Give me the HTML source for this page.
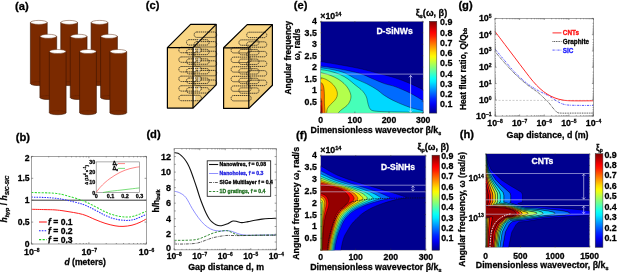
<!DOCTYPE html>
<html><head><meta charset="utf-8"><title>figure</title>
<style>
html,body{margin:0;padding:0;background:#fff;}
body{width:617px;height:272px;overflow:hidden;}
svg{display:block;will-change:transform;}
text{font-family:"Liberation Sans", sans-serif;}
</style></head><body>
<svg xmlns="http://www.w3.org/2000/svg" width="617" height="272" viewBox="0 0 617 272" font-family="'Liberation Sans', sans-serif">
<defs><linearGradient id="cbe" x1="0" y1="0" x2="0" y2="1"><stop offset="0" stop-color="#800000"/><stop offset="0.03" stop-color="#9f0000"/><stop offset="0.06" stop-color="#be0000"/><stop offset="0.09" stop-color="#de0000"/><stop offset="0.12" stop-color="#fd0000"/><stop offset="0.16" stop-color="#ff1d00"/><stop offset="0.19" stop-color="#ff3d00"/><stop offset="0.22" stop-color="#ff5c00"/><stop offset="0.25" stop-color="#ff7c00"/><stop offset="0.28" stop-color="#ff9b00"/><stop offset="0.31" stop-color="#ffba00"/><stop offset="0.34" stop-color="#ffda00"/><stop offset="0.38" stop-color="#fff900"/><stop offset="0.41" stop-color="#e6ff19"/><stop offset="0.44" stop-color="#c6ff39"/><stop offset="0.47" stop-color="#a7ff58"/><stop offset="0.5" stop-color="#87ff78"/><stop offset="0.53" stop-color="#68ff97"/><stop offset="0.56" stop-color="#49ffb6"/><stop offset="0.59" stop-color="#29ffd6"/><stop offset="0.62" stop-color="#0afff5"/><stop offset="0.66" stop-color="#00eaff"/><stop offset="0.69" stop-color="#00caff"/><stop offset="0.72" stop-color="#00abff"/><stop offset="0.75" stop-color="#008bff"/><stop offset="0.78" stop-color="#006cff"/><stop offset="0.81" stop-color="#004dff"/><stop offset="0.84" stop-color="#002dff"/><stop offset="0.88" stop-color="#000eff"/><stop offset="0.91" stop-color="#0000ee"/><stop offset="0.94" stop-color="#0000ce"/><stop offset="0.97" stop-color="#0000af"/><stop offset="1" stop-color="#00008f"/></linearGradient><linearGradient id="cbf" x1="0" y1="0" x2="0" y2="1"><stop offset="0" stop-color="#800000"/><stop offset="0.03" stop-color="#9f0000"/><stop offset="0.06" stop-color="#be0000"/><stop offset="0.09" stop-color="#de0000"/><stop offset="0.12" stop-color="#fd0000"/><stop offset="0.16" stop-color="#ff1d00"/><stop offset="0.19" stop-color="#ff3d00"/><stop offset="0.22" stop-color="#ff5c00"/><stop offset="0.25" stop-color="#ff7c00"/><stop offset="0.28" stop-color="#ff9b00"/><stop offset="0.31" stop-color="#ffba00"/><stop offset="0.34" stop-color="#ffda00"/><stop offset="0.38" stop-color="#fff900"/><stop offset="0.41" stop-color="#e6ff19"/><stop offset="0.44" stop-color="#c6ff39"/><stop offset="0.47" stop-color="#a7ff58"/><stop offset="0.5" stop-color="#87ff78"/><stop offset="0.53" stop-color="#68ff97"/><stop offset="0.56" stop-color="#49ffb6"/><stop offset="0.59" stop-color="#29ffd6"/><stop offset="0.62" stop-color="#0afff5"/><stop offset="0.66" stop-color="#00eaff"/><stop offset="0.69" stop-color="#00caff"/><stop offset="0.72" stop-color="#00abff"/><stop offset="0.75" stop-color="#008bff"/><stop offset="0.78" stop-color="#006cff"/><stop offset="0.81" stop-color="#004dff"/><stop offset="0.84" stop-color="#002dff"/><stop offset="0.88" stop-color="#000eff"/><stop offset="0.91" stop-color="#0000ee"/><stop offset="0.94" stop-color="#0000ce"/><stop offset="0.97" stop-color="#0000af"/><stop offset="1" stop-color="#00008f"/></linearGradient><linearGradient id="cbh" x1="0" y1="0" x2="0" y2="1"><stop offset="0" stop-color="#800000"/><stop offset="0.03" stop-color="#9f0000"/><stop offset="0.06" stop-color="#be0000"/><stop offset="0.09" stop-color="#de0000"/><stop offset="0.12" stop-color="#fd0000"/><stop offset="0.16" stop-color="#ff1d00"/><stop offset="0.19" stop-color="#ff3d00"/><stop offset="0.22" stop-color="#ff5c00"/><stop offset="0.25" stop-color="#ff7c00"/><stop offset="0.28" stop-color="#ff9b00"/><stop offset="0.31" stop-color="#ffba00"/><stop offset="0.34" stop-color="#ffda00"/><stop offset="0.38" stop-color="#fff900"/><stop offset="0.41" stop-color="#e6ff19"/><stop offset="0.44" stop-color="#c6ff39"/><stop offset="0.47" stop-color="#a7ff58"/><stop offset="0.5" stop-color="#87ff78"/><stop offset="0.53" stop-color="#68ff97"/><stop offset="0.56" stop-color="#49ffb6"/><stop offset="0.59" stop-color="#29ffd6"/><stop offset="0.62" stop-color="#0afff5"/><stop offset="0.66" stop-color="#00eaff"/><stop offset="0.69" stop-color="#00caff"/><stop offset="0.72" stop-color="#00abff"/><stop offset="0.75" stop-color="#008bff"/><stop offset="0.78" stop-color="#006cff"/><stop offset="0.81" stop-color="#004dff"/><stop offset="0.84" stop-color="#002dff"/><stop offset="0.88" stop-color="#000eff"/><stop offset="0.91" stop-color="#0000ee"/><stop offset="0.94" stop-color="#0000ce"/><stop offset="0.97" stop-color="#0000af"/><stop offset="1" stop-color="#00008f"/></linearGradient></defs>
<rect width="617" height="272" fill="#fff"/>
<text x="15" y="10.4" font-size="11.2" text-anchor="start" font-weight="bold" fill="#000" stroke="#000" stroke-width="0.28">(a)</text><path d="M30.4 22.4 L30.4 83.6 A8.4 2 0 0 0 47.2 83.6 L47.2 22.4 Z" fill="#7b2a00" stroke="#3d1400" stroke-width="0.6"/><path d="M30.7 83.6 A8.1 2 0 0 1 46.9 83.6" fill="none" stroke="#4a1800" stroke-width="0.45" stroke-dasharray="0.8 0.5"/><ellipse cx="38.8" cy="22.4" rx="8.2" ry="2" fill="#fff" stroke="#6b3b20" stroke-width="0.5"/><path d="M60.75 22.4 L60.75 83.6 A8.4 2 0 0 0 77.55 83.6 L77.55 22.4 Z" fill="#7b2a00" stroke="#3d1400" stroke-width="0.6"/><path d="M61.05 83.6 A8.1 2 0 0 1 77.25 83.6" fill="none" stroke="#4a1800" stroke-width="0.45" stroke-dasharray="0.8 0.5"/><ellipse cx="69.15" cy="22.4" rx="8.2" ry="2" fill="#fff" stroke="#6b3b20" stroke-width="0.5"/><path d="M91.1 22.4 L91.1 83.6 A8.4 2 0 0 0 107.9 83.6 L107.9 22.4 Z" fill="#7b2a00" stroke="#3d1400" stroke-width="0.6"/><path d="M91.4 83.6 A8.1 2 0 0 1 107.6 83.6" fill="none" stroke="#4a1800" stroke-width="0.45" stroke-dasharray="0.8 0.5"/><ellipse cx="99.5" cy="22.4" rx="8.2" ry="2" fill="#fff" stroke="#6b3b20" stroke-width="0.5"/><path d="M39.9 36.3 L39.9 97.5 A8.4 2 0 0 0 56.7 97.5 L56.7 36.3 Z" fill="#7b2a00" stroke="#3d1400" stroke-width="0.6"/><path d="M40.2 97.5 A8.1 2 0 0 1 56.4 97.5" fill="none" stroke="#4a1800" stroke-width="0.45" stroke-dasharray="0.8 0.5"/><ellipse cx="48.3" cy="36.3" rx="8.2" ry="2" fill="#fff" stroke="#6b3b20" stroke-width="0.5"/><path d="M70.25 36.3 L70.25 97.5 A8.4 2 0 0 0 87.05 97.5 L87.05 36.3 Z" fill="#7b2a00" stroke="#3d1400" stroke-width="0.6"/><path d="M70.55 97.5 A8.1 2 0 0 1 86.75 97.5" fill="none" stroke="#4a1800" stroke-width="0.45" stroke-dasharray="0.8 0.5"/><ellipse cx="78.65" cy="36.3" rx="8.2" ry="2" fill="#fff" stroke="#6b3b20" stroke-width="0.5"/><path d="M100.6 36.3 L100.6 97.5 A8.4 2 0 0 0 117.4 97.5 L117.4 36.3 Z" fill="#7b2a00" stroke="#3d1400" stroke-width="0.6"/><path d="M100.9 97.5 A8.1 2 0 0 1 117.1 97.5" fill="none" stroke="#4a1800" stroke-width="0.45" stroke-dasharray="0.8 0.5"/><ellipse cx="109" cy="36.3" rx="8.2" ry="2" fill="#fff" stroke="#6b3b20" stroke-width="0.5"/><path d="M49.3 51.5 L49.3 112.7 A8.4 2 0 0 0 66.1 112.7 L66.1 51.5 Z" fill="#7b2a00" stroke="#3d1400" stroke-width="0.6"/><path d="M49.6 112.7 A8.1 2 0 0 1 65.8 112.7" fill="none" stroke="#4a1800" stroke-width="0.45" stroke-dasharray="0.8 0.5"/><ellipse cx="57.7" cy="51.5" rx="8.2" ry="2" fill="#fff" stroke="#6b3b20" stroke-width="0.5"/><path d="M79.6 51.5 L79.6 112.7 A8.4 2 0 0 0 96.4 112.7 L96.4 51.5 Z" fill="#7b2a00" stroke="#3d1400" stroke-width="0.6"/><path d="M79.9 112.7 A8.1 2 0 0 1 96.1 112.7" fill="none" stroke="#4a1800" stroke-width="0.45" stroke-dasharray="0.8 0.5"/><ellipse cx="88" cy="51.5" rx="8.2" ry="2" fill="#fff" stroke="#6b3b20" stroke-width="0.5"/><path d="M109.9 51.5 L109.9 112.7 A8.4 2 0 0 0 126.7 112.7 L126.7 51.5 Z" fill="#7b2a00" stroke="#3d1400" stroke-width="0.6"/><path d="M110.2 112.7 A8.1 2 0 0 1 126.4 112.7" fill="none" stroke="#4a1800" stroke-width="0.45" stroke-dasharray="0.8 0.5"/><ellipse cx="118.3" cy="51.5" rx="8.2" ry="2" fill="#fff" stroke="#6b3b20" stroke-width="0.5"/>
<text x="15.7" y="141.2" font-size="11.2" text-anchor="start" font-weight="bold" fill="#000" stroke="#000" stroke-width="0.28">(b)</text><line x1="31.4" y1="200.2" x2="146.4" y2="200.2" stroke="#222" stroke-width="0.9"/><path d="M31.4 209.3 C33.67 209.35 41.07 209.5 45 209.6 C48.93 209.7 51.67 209.65 55 209.9 C58.33 210.15 60.4 210.35 65 211.1 C69.6 211.85 77.6 213 82.6 214.4 C87.6 215.8 91.27 218.02 95 219.5 C98.73 220.98 101.67 222.25 105 223.3 C108.33 224.35 112 225.28 115 225.8 C118 226.32 120.17 226.5 123 226.4 C125.83 226.3 129.17 225.88 132 225.2 C134.83 224.52 137.6 223.35 140 222.3 C142.4 221.25 145.33 219.47 146.4 218.9" fill="none" stroke="#ff2020" stroke-width="1" stroke-linecap="butt"/><path d="M31.4 197.1 C33.67 197.17 41.07 197.32 45 197.5 C48.93 197.68 51.67 197.82 55 198.2 C58.33 198.58 60.4 198.78 65 199.8 C69.6 200.82 77.6 202.6 82.6 204.3 C87.6 206 91.27 208.17 95 210 C98.73 211.83 101.67 213.82 105 215.3 C108.33 216.78 111.5 218.05 115 218.9 C118.5 219.75 122.67 220.35 126 220.4 C129.33 220.45 131.6 220.22 135 219.2 C138.4 218.18 144.5 215.12 146.4 214.3" fill="none" stroke="#2a2aff" stroke-width="1.05" stroke-dasharray="1.5 1.1" stroke-linecap="butt"/><path d="M31.4 192.5 C33.67 192.55 41.07 192.67 45 192.8 C48.93 192.93 51.67 192.9 55 193.3 C58.33 193.7 60.4 193.98 65 195.2 C69.6 196.42 77.6 198.72 82.6 200.6 C87.6 202.48 91.27 204.65 95 206.5 C98.73 208.35 101.67 210.22 105 211.7 C108.33 213.18 111.5 214.52 115 215.4 C118.5 216.28 122.67 216.93 126 217 C129.33 217.07 131.6 216.77 135 215.8 C138.4 214.83 144.5 211.97 146.4 211.2" fill="none" stroke="#30d830" stroke-width="1.05" stroke-dasharray="2.1 1.3" stroke-linecap="butt"/><rect x="31.4" y="156.4" width="115" height="87.6" fill="none" stroke="#8a8a8a" stroke-width="0.8"/><path d="M31.4 244v-1.8M31.4 156.4v1.8M88.9 244v-1.8M88.9 156.4v1.8M146.4 244v-1.8M146.4 156.4v1.8M31.4 156.4h1.8M146.4 156.4h-1.8M31.4 178.3h1.8M146.4 178.3h-1.8M31.4 200.2h1.8M146.4 200.2h-1.8M31.4 222.1h1.8M146.4 222.1h-1.8M31.4 244h1.8M146.4 244h-1.8" stroke="#555" stroke-width="0.6" fill="none"/><path d="M48.71 244v-1M48.71 156.4v1M58.83 244v-1M58.83 156.4v1M66.02 244v-1M66.02 156.4v1M71.59 244v-1M71.59 156.4v1M76.14 244v-1M76.14 156.4v1M79.99 244v-1M79.99 156.4v1M83.33 244v-1M83.33 156.4v1M86.27 244v-1M86.27 156.4v1M106.21 244v-1M106.21 156.4v1M116.33 244v-1M116.33 156.4v1M123.52 244v-1M123.52 156.4v1M129.09 244v-1M129.09 156.4v1M133.64 244v-1M133.64 156.4v1M137.49 244v-1M137.49 156.4v1M140.83 244v-1M140.83 156.4v1M143.77 244v-1M143.77 156.4v1" stroke="#555" stroke-width="0.6" fill="none"/><text x="29.6" y="160.8" font-size="8.6" text-anchor="end" font-weight="bold" fill="#000" stroke="#000" stroke-width="0.28">2</text><text x="29.6" y="181.3" font-size="8.6" text-anchor="end" font-weight="bold" fill="#000" stroke="#000" stroke-width="0.28">1.5</text><text x="29.6" y="203.2" font-size="8.6" text-anchor="end" font-weight="bold" fill="#000" stroke="#000" stroke-width="0.28">1</text><text x="29.6" y="225.1" font-size="8.6" text-anchor="end" font-weight="bold" fill="#000" stroke="#000" stroke-width="0.28">0.5</text><text x="29.6" y="247" font-size="8.6" text-anchor="end" font-weight="bold" fill="#000" stroke="#000" stroke-width="0.28">0</text><text x="31.8" y="254.8" font-size="8.9" font-weight="bold" text-anchor="middle" fill="#000" stroke="#000" stroke-width="0.28">10<tspan font-size="4.98" dy="-2.94">−8</tspan></text><text x="89.3" y="254.8" font-size="8.9" font-weight="bold" text-anchor="middle" fill="#000" stroke="#000" stroke-width="0.28">10<tspan font-size="4.98" dy="-2.94">−7</tspan></text><text x="146.6" y="254.8" font-size="8.9" font-weight="bold" text-anchor="middle" fill="#000" stroke="#000" stroke-width="0.28">10<tspan font-size="4.98" dy="-2.94">−6</tspan></text><text x="64.4" y="265.2" font-size="8.6" font-weight="bold" stroke="#000" stroke-width="0.28"><tspan font-style="italic">d</tspan> (meters)</text><text transform="translate(7.0 199) rotate(-90)" text-anchor="middle" font-size="8.6" font-weight="bold" stroke="#000" stroke-width="0.28"><tspan font-style="italic">h</tspan><tspan font-size="5.4" dy="1.6" font-style="italic">hyp</tspan><tspan dy="-1.6"> / </tspan><tspan font-style="italic">h</tspan><tspan font-size="5.4" dy="1.6" font-style="italic">SiC-SiC</tspan></text><line x1="39" y1="222" x2="46.8" y2="222" stroke="#ff2020" stroke-width="1.1"/><text x="48.0" y="225" font-size="8.6" font-weight="bold" stroke="#000" stroke-width="0.28"><tspan font-style="italic">f</tspan> = 0.1</text><line x1="39" y1="230.8" x2="46.8" y2="230.8" stroke="#2020ff" stroke-width="1.1" stroke-dasharray="1.6 1.2"/><text x="48.0" y="233.8" font-size="8.6" font-weight="bold" stroke="#000" stroke-width="0.28"><tspan font-style="italic">f</tspan> = 0.2</text><line x1="39" y1="239.6" x2="46.8" y2="239.6" stroke="#20d020" stroke-width="1.1" stroke-dasharray="2.2 1.4"/><text x="48.0" y="242.6" font-size="8.6" font-weight="bold" stroke="#000" stroke-width="0.28"><tspan font-style="italic">f</tspan> = 0.3</text><rect x="96.2" y="161.9" width="43.3" height="30.7" fill="#fff" stroke="#777" stroke-width="0.6"/><path d="M96.2 192.4 C96.83 191.58 98.53 189.15 100 187.5 C101.47 185.85 103.33 184 105 182.5 C106.67 181 108.33 179.72 110 178.5 C111.67 177.28 113.33 176.22 115 175.2 C116.67 174.18 118.33 173.23 120 172.4 C121.67 171.57 123.33 170.83 125 170.2 C126.67 169.57 128.33 169.05 130 168.6 C131.67 168.15 133.42 167.8 135 167.5 C136.58 167.2 138.75 166.92 139.5 166.8" fill="none" stroke="#ff5050" stroke-width="0.7" stroke-linecap="butt"/><path d="M103 192.5 C104.17 192.3 107.17 191.68 110 191.3 C112.83 190.92 116.67 190.58 120 190.2 C123.33 189.82 126.75 189.38 130 189 C133.25 188.62 137.92 188.08 139.5 187.9" fill="none" stroke="#40d040" stroke-width="0.7" stroke-linecap="butt"/><text x="95.2" y="163.8" font-size="5.4" text-anchor="end" font-weight="bold" fill="#000" stroke="#000" stroke-width="0.28">30</text><text x="95.2" y="174.1" font-size="5.4" text-anchor="end" font-weight="bold" fill="#000" stroke="#000" stroke-width="0.28">20</text><text x="95.2" y="184.3" font-size="5.4" text-anchor="end" font-weight="bold" fill="#000" stroke="#000" stroke-width="0.28">10</text><text x="95.2" y="194.5" font-size="5.4" text-anchor="end" font-weight="bold" fill="#000" stroke="#000" stroke-width="0.28">0</text><text x="96.2" y="197.6" font-size="5.4" text-anchor="middle" font-weight="bold" fill="#000" stroke="#000" stroke-width="0.28">0</text><text x="110.6" y="197.6" font-size="5.4" text-anchor="middle" font-weight="bold" fill="#000" stroke="#000" stroke-width="0.28">0.1</text><text x="125" y="197.6" font-size="5.4" text-anchor="middle" font-weight="bold" fill="#000" stroke="#000" stroke-width="0.28">0.2</text><text x="139.5" y="197.6" font-size="5.4" text-anchor="middle" font-weight="bold" fill="#000" stroke="#000" stroke-width="0.28">0.3</text><text transform="translate(87.6 175) rotate(-90)" text-anchor="middle" font-size="4.0" font-weight="bold" stroke="#000" stroke-width="0.28">Δ (10<tspan font-size="3" dy="-1.5">4</tspan><tspan dy="1.5"> s</tspan><tspan font-size="3" dy="-1.5">−1</tspan><tspan dy="1.5">)</tspan></text><text x="112.6" y="165.2" font-size="5.2" text-anchor="start" font-weight="bold" fill="#000" stroke="#000" stroke-width="0.28">Δ<tspan font-size="3" dy="1">r</tspan></text><text x="112.6" y="170" font-size="5.2" text-anchor="start" font-weight="bold" fill="#000" stroke="#000" stroke-width="0.28">Δ<tspan font-size="3" dy="1">s</tspan></text><line x1="118" y1="163.6" x2="125" y2="163.6" stroke="#ff5050" stroke-width="0.7"/><line x1="118" y1="168.4" x2="125" y2="168.4" stroke="#40d040" stroke-width="0.7"/>
<text x="145.7" y="9.1" font-size="11.2" text-anchor="start" font-weight="bold" fill="#000" stroke="#000" stroke-width="0.28">(c)</text><polygon points="167.4,47.6 193,47.6 193,108.1 167.4,108.1" fill="#f9d27f"/><polygon points="167.4,47.6 190.6,24.4 216.2,24.4 193,47.6" fill="#f8d584"/><polygon points="193,47.6 216.2,24.4 216.2,84.9 193,108.1" fill="#eecb7c"/><g fill="none" stroke="#141414" stroke-width="0.85" stroke-dasharray="1.4 0.6" opacity="0.9"><rect x="178.88" y="47.32" width="22.5" height="5.4" rx="2.5" /><rect x="178.88" y="56.92" width="22.5" height="5.4" rx="2.5" /><rect x="178.88" y="66.52" width="22.5" height="5.4" rx="2.5" /><rect x="178.88" y="76.12" width="22.5" height="5.4" rx="2.5" /><rect x="178.88" y="85.72" width="22.5" height="5.4" rx="2.5" /><rect x="178.88" y="95.32" width="22.5" height="5.4" rx="2.5" /><rect x="186.54" y="39.66" width="22.5" height="5.4" rx="2.5" /><rect x="186.54" y="49.26" width="22.5" height="5.4" rx="2.5" /><rect x="186.54" y="58.86" width="22.5" height="5.4" rx="2.5" /><rect x="186.54" y="68.46" width="22.5" height="5.4" rx="2.5" /><rect x="186.54" y="78.06" width="22.5" height="5.4" rx="2.5" /><rect x="186.54" y="87.66" width="22.5" height="5.4" rx="2.5" /><rect x="194.19" y="32.01" width="22.5" height="5.4" rx="2.5" /><rect x="194.19" y="41.61" width="22.5" height="5.4" rx="2.5" /><rect x="194.19" y="51.21" width="22.5" height="5.4" rx="2.5" /><rect x="194.19" y="60.81" width="22.5" height="5.4" rx="2.5" /><rect x="194.19" y="70.41" width="22.5" height="5.4" rx="2.5" /><rect x="194.19" y="80.01" width="22.5" height="5.4" rx="2.5" /></g><path d="M194.6 47.92 v4.2M194.6 57.52 v4.2M194.6 67.12 v4.2M194.6 76.72 v4.2M194.6 86.32 v4.2M194.6 95.92 v4.2M199.1 38.76 v4.2M199.1 48.36 v4.2M199.1 57.96 v4.2M199.1 67.56 v4.2M199.1 77.16 v4.2M199.1 86.76 v4.2" stroke="#fff" stroke-width="0.9" fill="none"/><g fill="none" stroke="#000" stroke-width="1.2" stroke-linejoin="round"><polygon points="167.4,47.6 193,47.6 193,108.1 167.4,108.1"/><polyline points="167.4,47.6 190.6,24.4 216.2,24.4 216.2,84.9 193,108.1"/><line x1="193" y1="47.6" x2="216.2" y2="24.4"/></g><polygon points="223.6,47.8 248.8,47.8 248.8,108.4 223.6,108.4" fill="#f9d27f"/><polygon points="223.6,47.8 247.2,24.6 272.4,24.6 248.8,47.8" fill="#f8d584"/><polygon points="248.8,47.8 272.4,24.6 272.4,85.2 248.8,108.4" fill="#eecb7c"/><g fill="none" stroke="#141414" stroke-width="0.85" stroke-dasharray="1.4 0.6" opacity="0.9"><rect x="231.14" y="47.52" width="20" height="5.4" rx="2.5" /><rect x="231.14" y="57.12" width="20" height="5.4" rx="2.5" /><rect x="231.14" y="66.72" width="20" height="5.4" rx="2.5" /><rect x="231.14" y="76.32" width="20" height="5.4" rx="2.5" /><rect x="231.14" y="85.92" width="20" height="5.4" rx="2.5" /><rect x="231.14" y="95.52" width="20" height="5.4" rx="2.5" /><rect x="238.93" y="39.86" width="20" height="5.4" rx="2.5" /><rect x="238.93" y="49.46" width="20" height="5.4" rx="2.5" /><rect x="238.93" y="59.06" width="20" height="5.4" rx="2.5" /><rect x="238.93" y="68.66" width="20" height="5.4" rx="2.5" /><rect x="238.93" y="78.26" width="20" height="5.4" rx="2.5" /><rect x="238.93" y="87.86" width="20" height="5.4" rx="2.5" /><rect x="246.72" y="32.21" width="20" height="5.4" rx="2.5" /><rect x="246.72" y="41.81" width="20" height="5.4" rx="2.5" /><rect x="246.72" y="51.41" width="20" height="5.4" rx="2.5" /><rect x="246.72" y="61.01" width="20" height="5.4" rx="2.5" /><rect x="246.72" y="70.61" width="20" height="5.4" rx="2.5" /><rect x="246.72" y="80.21" width="20" height="5.4" rx="2.5" /></g><g fill="none" stroke="#000" stroke-width="1.2" stroke-linejoin="round"><polygon points="223.6,47.8 248.8,47.8 248.8,108.4 223.6,108.4"/><polyline points="223.6,47.8 247.2,24.6 272.4,24.6 272.4,85.2 248.8,108.4"/><line x1="248.8" y1="47.8" x2="272.4" y2="24.6"/></g>
<text x="146.4" y="138.2" font-size="11.2" text-anchor="start" font-weight="bold" fill="#000" stroke="#000" stroke-width="0.28">(d)</text><path d="M174.2 191.2 C175.12 191.47 177.75 191.75 179.7 192.8 C181.65 193.85 183.83 194.92 185.9 197.5 C187.97 200.08 190.03 204.95 192.1 208.3 C194.17 211.65 196.23 214.87 198.3 217.6 C200.37 220.33 202.43 222.8 204.5 224.7 C206.57 226.6 208.78 228 210.7 229 C212.62 230 214.12 230.37 216 230.7 C217.88 231.03 219.93 231.02 222 231 C224.07 230.98 226.23 230.35 228.4 230.6 C230.57 230.85 233.07 231.88 235 232.5 C236.93 233.12 238.08 233.85 240 234.3 C241.92 234.75 244 235.05 246.5 235.2 C249 235.35 251.92 235.23 255 235.2 C258.08 235.17 261.45 235.03 265 235 C268.55 234.97 274.42 235 276.3 235" fill="none" stroke="#6060ff" stroke-width="0.7" stroke-linecap="butt"/><path d="M174.2 240.3 C176 240.3 181.27 240.43 185 240.3 C188.73 240.17 193.27 240.13 196.6 239.5 C199.93 238.87 202.43 237.5 205 236.5 C207.57 235.5 209.67 234.33 212 233.5 C214.33 232.67 216.58 231.98 219 231.5 C221.42 231.02 224.33 230.43 226.5 230.6 C228.67 230.77 230.08 231.73 232 232.5 C233.92 233.27 235.67 234.72 238 235.2 C240.33 235.68 242.33 235.4 246 235.4 C249.67 235.4 254.95 235.27 260 235.2 C265.05 235.13 273.58 235.03 276.3 235" fill="none" stroke="#208020" stroke-width="0.9" stroke-dasharray="2.4 1.4" stroke-linecap="butt"/><path d="M174.2 244 C176 244 181.27 244.13 185 244 C188.73 243.87 193.27 243.78 196.6 243.2 C199.93 242.62 202.43 241.37 205 240.5 C207.57 239.63 209.67 238.67 212 238 C214.33 237.33 216.67 236.92 219 236.5 C221.33 236.08 223.83 235.67 226 235.5 C228.17 235.33 229.67 235.48 232 235.5 C234.33 235.52 236.17 235.63 240 235.6 C243.83 235.57 248.95 235.37 255 235.3 C261.05 235.23 272.75 235.22 276.3 235.2" fill="none" stroke="#333" stroke-width="0.8" stroke-dasharray="3 1 0.8 1" stroke-linecap="butt"/><path d="M174.2 152.6 C174.83 152.72 176.82 152.8 178 153.3 C179.18 153.8 180.22 154.65 181.3 155.6 C182.38 156.55 183.47 157.68 184.5 159 C185.53 160.32 186.5 161.67 187.5 163.5 C188.5 165.33 189.47 167.43 190.5 170 C191.53 172.57 192.65 175.9 193.7 178.9 C194.75 181.9 195.78 184.9 196.8 188 C197.82 191.1 198.77 194.5 199.8 197.5 C200.83 200.5 201.97 203.42 203 206 C204.03 208.58 205 210.92 206 213 C207 215.08 207.97 216.97 209 218.5 C210.03 220.03 211.03 221.15 212.2 222.2 C213.37 223.25 214.7 224.2 216 224.8 C217.3 225.4 218.67 225.77 220 225.8 C221.33 225.83 222.72 225.33 224 225 C225.28 224.67 226.7 224.23 227.7 223.8 C228.7 223.37 229.08 222.87 230 222.4 C230.92 221.93 232.03 221.15 233.2 221 C234.37 220.85 235.57 221.23 237 221.5 C238.43 221.77 239.97 222.58 241.8 222.6 C243.63 222.62 245.8 222 248 221.6 C250.2 221.2 252.67 220.62 255 220.2 C257.33 219.78 259.67 219.38 262 219.1 C264.33 218.82 266.62 218.65 269 218.5 C271.38 218.35 275.08 218.25 276.3 218.2" fill="none" stroke="#111" stroke-width="1.1" stroke-linecap="butt"/><rect x="174.2" y="148.6" width="102.1" height="101.2" fill="none" stroke="#8a8a8a" stroke-width="0.8"/><path d="M174.2 249.8v-1.6M174.2 148.6v1.6M199.72 249.8v-1.6M199.72 148.6v1.6M225.25 249.8v-1.6M225.25 148.6v1.6M250.77 249.8v-1.6M250.77 148.6v1.6M276.3 249.8v-1.6M276.3 148.6v1.6M174.2 249.8h1.6M276.3 249.8h-1.6M174.2 234.26h1.6M276.3 234.26h-1.6M174.2 218.72h1.6M276.3 218.72h-1.6M174.2 203.18h1.6M276.3 203.18h-1.6M174.2 187.64h1.6M276.3 187.64h-1.6M174.2 172.1h1.6M276.3 172.1h-1.6M174.2 156.56h1.6M276.3 156.56h-1.6M174.2 242.03h1.6M276.3 242.03h-1.6M174.2 226.49h1.6M276.3 226.49h-1.6M174.2 210.95h1.6M276.3 210.95h-1.6M174.2 195.41h1.6M276.3 195.41h-1.6M174.2 179.87h1.6M276.3 179.87h-1.6M174.2 164.33h1.6M276.3 164.33h-1.6" stroke="#555" stroke-width="0.6" fill="none"/><path d="M181.88 249.8v-0.9M181.88 148.6v0.9M186.38 249.8v-0.9M186.38 148.6v0.9M189.57 249.8v-0.9M189.57 148.6v0.9M192.04 249.8v-0.9M192.04 148.6v0.9M194.06 249.8v-0.9M194.06 148.6v0.9M195.77 249.8v-0.9M195.77 148.6v0.9M197.25 249.8v-0.9M197.25 148.6v0.9M198.56 249.8v-0.9M198.56 148.6v0.9M207.41 249.8v-0.9M207.41 148.6v0.9M211.9 249.8v-0.9M211.9 148.6v0.9M215.09 249.8v-0.9M215.09 148.6v0.9M217.57 249.8v-0.9M217.57 148.6v0.9M219.59 249.8v-0.9M219.59 148.6v0.9M221.3 249.8v-0.9M221.3 148.6v0.9M222.78 249.8v-0.9M222.78 148.6v0.9M224.08 249.8v-0.9M224.08 148.6v0.9M232.93 249.8v-0.9M232.93 148.6v0.9M237.43 249.8v-0.9M237.43 148.6v0.9M240.62 249.8v-0.9M240.62 148.6v0.9M243.09 249.8v-0.9M243.09 148.6v0.9M245.11 249.8v-0.9M245.11 148.6v0.9M246.82 249.8v-0.9M246.82 148.6v0.9M248.3 249.8v-0.9M248.3 148.6v0.9M249.61 249.8v-0.9M249.61 148.6v0.9M258.46 249.8v-0.9M258.46 148.6v0.9M262.95 249.8v-0.9M262.95 148.6v0.9M266.14 249.8v-0.9M266.14 148.6v0.9M268.62 249.8v-0.9M268.62 148.6v0.9M270.64 249.8v-0.9M270.64 148.6v0.9M272.35 249.8v-0.9M272.35 148.6v0.9M273.83 249.8v-0.9M273.83 148.6v0.9M275.13 249.8v-0.9M275.13 148.6v0.9" stroke="#555" stroke-width="0.6" fill="none"/><text x="171" y="251.4" font-size="9" text-anchor="end" font-weight="bold" fill="#000" stroke="#000" stroke-width="0.28">0</text><text x="171" y="237.36" font-size="9" text-anchor="end" font-weight="bold" fill="#000" stroke="#000" stroke-width="0.28">2</text><text x="171" y="221.82" font-size="9" text-anchor="end" font-weight="bold" fill="#000" stroke="#000" stroke-width="0.28">4</text><text x="171" y="206.28" font-size="9" text-anchor="end" font-weight="bold" fill="#000" stroke="#000" stroke-width="0.28">6</text><text x="171" y="190.74" font-size="9" text-anchor="end" font-weight="bold" fill="#000" stroke="#000" stroke-width="0.28">8</text><text x="171" y="175.2" font-size="9" text-anchor="end" font-weight="bold" fill="#000" stroke="#000" stroke-width="0.28">10</text><text x="171" y="159.66" font-size="9" text-anchor="end" font-weight="bold" fill="#000" stroke="#000" stroke-width="0.28">12</text><text x="174.2" y="258.8" font-size="8.6" font-weight="bold" text-anchor="middle" fill="#000" stroke="#000" stroke-width="0.28">10<tspan font-size="4.82" dy="-2.84">−8</tspan></text><text x="199.72" y="258.8" font-size="8.6" font-weight="bold" text-anchor="middle" fill="#000" stroke="#000" stroke-width="0.28">10<tspan font-size="4.82" dy="-2.84">−7</tspan></text><text x="225.25" y="258.8" font-size="8.6" font-weight="bold" text-anchor="middle" fill="#000" stroke="#000" stroke-width="0.28">10<tspan font-size="4.82" dy="-2.84">−6</tspan></text><text x="250.77" y="258.8" font-size="8.6" font-weight="bold" text-anchor="middle" fill="#000" stroke="#000" stroke-width="0.28">10<tspan font-size="4.82" dy="-2.84">−5</tspan></text><text x="276.3" y="258.8" font-size="8.6" font-weight="bold" text-anchor="middle" fill="#000" stroke="#000" stroke-width="0.28">10<tspan font-size="4.82" dy="-2.84">−4</tspan></text><text x="188.2" y="270.3" font-size="8.8" text-anchor="start" font-weight="bold" fill="#000" stroke="#000" stroke-width="0.28">Gap distance d, m</text><text transform="translate(158.6 201) rotate(-90)" text-anchor="middle" font-size="8.4" font-weight="bold" stroke="#000" stroke-width="0.28">h/h<tspan font-size="5.0" dy="1.7">bulk</tspan></text><rect x="207.2" y="160.8" width="63.5" height="35.5" fill="#fff" stroke="#111" stroke-width="0.8"/><line x1="209" y1="164.5" x2="218.2" y2="164.5" stroke="#111" stroke-width="1.1"/><text x="219.6" y="166.4" font-size="5.15" text-anchor="start" font-weight="bold" fill="#000" stroke="#000" stroke-width="0.28">Nanowires, f = 0.08</text><line x1="209" y1="173.5" x2="218.2" y2="173.5" stroke="#6060ff" stroke-width="0.7"/><text x="219.6" y="175.4" font-size="5.15" text-anchor="start" font-weight="bold" fill="#2020e0" stroke="#2020e0" stroke-width="0.28">Nanoholes, f = 0.3</text><line x1="209" y1="182.5" x2="218.2" y2="182.5" stroke="#333" stroke-width="0.8" stroke-dasharray="3 1 0.8 1"/><text x="219.6" y="184.4" font-size="5.15" text-anchor="start" font-weight="bold" fill="#000" stroke="#000" stroke-width="0.28">SiGe Multilayer f = 0.4</text><line x1="209" y1="191.5" x2="218.2" y2="191.5" stroke="#208020" stroke-width="0.9" stroke-dasharray="2.4 1.4"/><text x="219.6" y="193.4" font-size="5.15" text-anchor="start" font-weight="bold" fill="#207020" stroke="#207020" stroke-width="0.28">1D gratings, f = 0.4</text>
<text x="293.7" y="9.1" font-size="11.2" text-anchor="start" font-weight="bold" fill="#000" stroke="#000" stroke-width="0.28">(e)</text><clipPath id="ce"><rect x="320.7" y="21.3" width="102.5" height="91.8"/></clipPath><g clip-path="url(#ce)"><rect x="320.7" y="21.3" width="102.5" height="91.8" fill="#00008f"/><path d="M316.7 61.6 L320.7 61.6 C323.92 62.13 333.45 63.63 340 64.8 C346.55 65.97 353.33 67.1 360 68.6 C366.67 70.1 374.17 72.27 380 73.8 C385.83 75.33 390 76.18 395 77.8 C400 79.42 405.3 81.52 410 83.5 C414.7 85.48 421 88.67 423.2 89.7 L427.2 89.7 L427.2 117.1 L316.7 117.1Z" fill="#0000fd" stroke="#000" stroke-width="0.45" stroke-opacity="0.85"/><path d="M316.7 66 L320.7 66 C323.92 66.5 333.45 67.75 340 69 C346.55 70.25 354.67 71.92 360 73.5 C365.33 75.08 367.93 76.82 372 78.5 C376.07 80.18 380.57 82.25 384.4 83.6 C388.23 84.95 390.73 85.03 395 86.6 C399.27 88.17 405.3 90.65 410 93 C414.7 95.35 421 99.42 423.2 100.7 L427.2 100.7 L427.2 117.1 L316.7 117.1Z" fill="#006bff" stroke="#000" stroke-width="0.45" stroke-opacity="0.85"/><path d="M316.7 67.8 L320.7 67.8 C322.58 68.08 327.95 68.63 332 69.5 C336.05 70.37 341.17 71.48 345 73 C348.83 74.52 351.37 76.8 355 78.6 C358.63 80.4 363.13 81.95 366.8 83.8 C370.47 85.65 374.07 87.77 377 89.7 C379.93 91.63 381.4 93.47 384.4 95.4 C387.4 97.33 390.73 99.3 395 101.3 C399.27 103.3 405.3 105.82 410 107.4 C414.7 108.98 421 110.23 423.2 110.8 L427.2 110.8 L427.2 117.1 L316.7 117.1Z" fill="#00d8ff" stroke="#000" stroke-width="0.45" stroke-opacity="0.85"/><path d="M316.7 69.6 L320.7 69.6 C322.25 69.87 326.78 70.38 330 71.2 C333.22 72.02 337 73.2 340 74.5 C343 75.8 345.5 77.28 348 79 C350.5 80.72 352.83 83.05 355 84.8 C357.17 86.55 359.42 88.05 361 89.5 C362.58 90.95 363.53 92.08 364.5 93.5 C365.47 94.92 366.18 96.18 366.8 98 C367.42 99.82 367.47 102.4 368.2 104.4 C368.93 106.4 369.23 108.82 371.2 110 C373.17 111.18 375.2 111.17 380 111.5 C384.8 111.83 392.8 111.85 400 112 C407.2 112.15 419.33 112.33 423.2 112.4 L427.2 112.4 L427.2 117.1 L316.7 117.1Z" fill="#46ffb9" stroke="#000" stroke-width="0.45" stroke-opacity="0.85"/><path d="M316.7 72.6 L320.7 72.6 C322.25 73.03 327.12 74.13 330 75.2 C332.88 76.27 335.67 77.62 338 79 C340.33 80.38 342.25 81.83 344 83.5 C345.75 85.17 347.35 87 348.5 89 C349.65 91 350.65 93.5 350.9 95.5 C351.15 97.5 350.65 99.33 350 101 C349.35 102.67 348.33 104.12 347 105.5 C345.67 106.88 343.33 108.22 342 109.3 C340.67 110.38 339.6 111.37 339 112 C338.4 112.63 338.5 112.92 338.4 113.1 L338.4 117.1 L316.7 117.1Z" fill="#b3ff4c" stroke="#000" stroke-width="0.45" stroke-opacity="0.85"/><path d="M316.7 77.5 L320.7 77.5 C321.58 77.82 324.28 78.55 326 79.4 C327.72 80.25 329.5 81.33 331 82.6 C332.5 83.87 333.97 85.43 335 87 C336.03 88.57 336.87 90.42 337.2 92 C337.53 93.58 337.43 95.08 337 96.5 C336.57 97.92 335.68 99.15 334.6 100.5 C333.52 101.85 331.68 103.28 330.5 104.6 C329.32 105.92 328.15 106.98 327.5 108.4 C326.85 109.82 326.75 112.32 326.6 113.1 L326.6 117.1 L316.7 117.1Z" fill="#ffde00" stroke="#000" stroke-width="0.45" stroke-opacity="0.85"/><path d="M316.7 82.2 L320.7 82.2 C321.02 82.5 322.07 83.03 322.6 84 C323.13 84.97 323.6 86.17 323.9 88 C324.2 89.83 324.32 92.5 324.4 95 C324.48 97.5 324.33 100.67 324.4 103 C324.47 105.33 324.68 107.32 324.8 109 C324.92 110.68 325.05 112.42 325.1 113.1 L325.1 117.1 L316.7 117.1Z" fill="#ff7100" stroke="#000" stroke-width="0.45" stroke-opacity="0.85"/><path d="M316.7 98 L320.7 98 C320.83 98.5 321.28 99.67 321.5 101 C321.72 102.33 321.87 103.98 322 106 C322.13 108.02 322.25 111.92 322.3 113.1 L322.3 117.1 L316.7 117.1Z" fill="#ff0300" stroke="#000" stroke-width="0.45" stroke-opacity="0.85"/><path d="M316.7 105.5 L320.7 105.5 C320.78 106 321.07 107.23 321.2 108.5 C321.33 109.77 321.45 112.33 321.5 113.1 L321.5 117.1 L316.7 117.1Z" fill="#950000" stroke="#000" stroke-width="0.45" stroke-opacity="0.85"/></g><line x1="320.7" y1="74.1" x2="423.2" y2="74.1" stroke="#d0d0f0" stroke-width="0.6"/><g stroke="#e8e8ff" stroke-width="0.7" fill="none"><line x1="410.6" y1="75.5" x2="410.6" y2="112.3"/><polyline points="409,77.28 410.6,75.5 412.2,77.28"/><polyline points="409,110.52 410.6,112.3 412.2,110.52"/></g><text x="376.4" y="34.3" font-size="8.6" text-anchor="start" font-weight="bold" fill="#fff" stroke="#fff" stroke-width="0.28">D-SiNWs</text><rect x="320.7" y="21.3" width="102.5" height="91.8" fill="none" stroke="#999" stroke-width="0.5"/><path d="M320.7 113.1v-1.5 M320.7 21.3v1.5M354.87 113.1v-1.5 M354.87 21.3v1.5M389.03 113.1v-1.5 M389.03 21.3v1.5M423.2 113.1v-1.5 M423.2 21.3v1.5M320.7 113.1h1.5 M423.2 113.1h-1.5M320.7 101.62h1.5 M423.2 101.62h-1.5M320.7 90.15h1.5 M423.2 90.15h-1.5M320.7 78.67h1.5 M423.2 78.67h-1.5M320.7 67.2h1.5 M423.2 67.2h-1.5M320.7 55.72h1.5 M423.2 55.72h-1.5M320.7 44.25h1.5 M423.2 44.25h-1.5M320.7 32.77h1.5 M423.2 32.77h-1.5M320.7 21.3h1.5 M423.2 21.3h-1.5" stroke="#333" stroke-width="0.5" fill="none"/><text x="316.8" y="104.62" font-size="8.8" text-anchor="end" font-weight="bold" fill="#000" stroke="#000" stroke-width="0.28">0.5</text><text x="316.8" y="93.15" font-size="8.8" text-anchor="end" font-weight="bold" fill="#000" stroke="#000" stroke-width="0.28">1</text><text x="316.8" y="81.67" font-size="8.8" text-anchor="end" font-weight="bold" fill="#000" stroke="#000" stroke-width="0.28">1.5</text><text x="316.8" y="70.2" font-size="8.8" text-anchor="end" font-weight="bold" fill="#000" stroke="#000" stroke-width="0.28">2</text><text x="316.8" y="58.72" font-size="8.8" text-anchor="end" font-weight="bold" fill="#000" stroke="#000" stroke-width="0.28">2.5</text><text x="316.8" y="47.25" font-size="8.8" text-anchor="end" font-weight="bold" fill="#000" stroke="#000" stroke-width="0.28">3</text><text x="316.8" y="35.77" font-size="8.8" text-anchor="end" font-weight="bold" fill="#000" stroke="#000" stroke-width="0.28">3.5</text><text x="316.8" y="24.3" font-size="8.8" text-anchor="end" font-weight="bold" fill="#000" stroke="#000" stroke-width="0.28">4</text><text x="320.7" y="123.3" font-size="8.7" text-anchor="middle" font-weight="bold" fill="#000" stroke="#000" stroke-width="0.28">0</text><text x="354.87" y="123.3" font-size="8.7" text-anchor="middle" font-weight="bold" fill="#000" stroke="#000" stroke-width="0.28">100</text><text x="389.03" y="123.3" font-size="8.7" text-anchor="middle" font-weight="bold" fill="#000" stroke="#000" stroke-width="0.28">200</text><text x="423.2" y="123.3" font-size="8.7" text-anchor="middle" font-weight="bold" fill="#000" stroke="#000" stroke-width="0.28">300</text><text x="320.3" y="19.0" font-size="8.8" font-weight="bold" stroke="#000" stroke-width="0.28">×10<tspan font-size="5.6" dy="-2.7">14</tspan></text><text x="310.6" y="133.4" font-size="8.8" font-weight="bold" stroke="#000" stroke-width="0.28">Dimensionless wavevector β/k<tspan font-size="5.4" dy="1.8">s</tspan></text><text transform="translate(291.1 57.6) rotate(-90)" x="0" y="0" font-size="8.35" text-anchor="middle" font-weight="bold" fill="#000" stroke="#000" stroke-width="0.28">Angular frequency</text><text transform="translate(300.2 44.4) rotate(-90)" x="0" y="0" font-size="8.35" text-anchor="middle" font-weight="bold" fill="#000" stroke="#000" stroke-width="0.28">ω, rad/s</text><rect x="429.3" y="21.3" width="7.5" height="91.8" fill="url(#cbe)" stroke="#333" stroke-width="0.5"/><text x="440" y="107.46" font-size="8.9" text-anchor="start" font-weight="bold" fill="#000" stroke="#000" stroke-width="0.28">0.1</text><text x="440" y="97.19" font-size="8.9" text-anchor="start" font-weight="bold" fill="#000" stroke="#000" stroke-width="0.28">0.2</text><text x="440" y="86.92" font-size="8.9" text-anchor="start" font-weight="bold" fill="#000" stroke="#000" stroke-width="0.28">0.3</text><text x="440" y="76.65" font-size="8.9" text-anchor="start" font-weight="bold" fill="#000" stroke="#000" stroke-width="0.28">0.4</text><text x="440" y="66.38" font-size="8.9" text-anchor="start" font-weight="bold" fill="#000" stroke="#000" stroke-width="0.28">0.5</text><text x="440" y="56.11" font-size="8.9" text-anchor="start" font-weight="bold" fill="#000" stroke="#000" stroke-width="0.28">0.6</text><text x="440" y="45.84" font-size="8.9" text-anchor="start" font-weight="bold" fill="#000" stroke="#000" stroke-width="0.28">0.7</text><text x="440" y="35.57" font-size="8.9" text-anchor="start" font-weight="bold" fill="#000" stroke="#000" stroke-width="0.28">0.8</text><text x="440" y="25.3" font-size="8.9" text-anchor="start" font-weight="bold" fill="#000" stroke="#000" stroke-width="0.28">0.9</text><text x="415.8" y="16.2" font-size="9.1" font-weight="bold" stroke="#000" stroke-width="0.28">ξ<tspan font-size="5.4" dy="1.7">s</tspan><tspan dy="-1.7">(ω, β)</tspan></text>
<text x="296" y="139.1" font-size="11.2" text-anchor="start" font-weight="bold" fill="#000" stroke="#000" stroke-width="0.28">(f)</text><clipPath id="cf"><rect x="320.6" y="155.2" width="105.3" height="95"/></clipPath><g clip-path="url(#cf)"><rect x="320.6" y="155.2" width="105.3" height="95" fill="#00008f"/><path d="M316.6 165.8 L320.6 165.8 C323.4 167.37 331.53 172.55 337.4 175.2 C343.27 177.85 349.7 179.7 355.8 181.7 C361.9 183.7 367.88 185.37 374 187.2 C380.12 189.03 387.83 191.27 392.5 192.7 C397.17 194.13 399.7 194.98 402 195.8 C404.3 196.62 407.3 196.97 406.3 197.6 C405.3 198.23 399.9 198.63 396 199.6 C392.1 200.57 386.9 202.03 382.9 203.4 C378.9 204.77 375.5 206.05 372 207.8 C368.5 209.55 364.57 211.95 361.9 213.9 C359.23 215.85 357.75 217.75 356 219.5 C354.25 221.25 352.9 222.4 351.4 224.4 C349.9 226.4 348.22 229.42 347 231.5 C345.78 233.58 344.88 234.98 344.1 236.9 C343.32 238.82 342.82 240.78 342.3 243 C341.78 245.22 341.22 249 341 250.2 L341 254.2 L316.6 254.2Z" fill="#0000fd" stroke="#000" stroke-width="0.45" stroke-opacity="0.85"/><path d="M316.6 170.72 L320.6 170.72 C323.08 171.96 330.4 176.02 335.5 178.15 C340.6 180.28 346.14 181.83 351.19 183.49 C356.25 185.14 361.02 186.53 365.81 188.1 C370.6 189.67 376.4 191.57 379.92 192.89 C383.44 194.21 385.25 195.15 386.91 196 C388.57 196.85 390.85 197.28 389.87 198 C388.9 198.73 384.48 199.38 381.06 200.35 C377.65 201.32 372.86 202.63 369.37 203.8 C365.88 204.98 362.93 206.08 360.13 207.38 C357.34 208.69 354.59 210.3 352.6 211.63 C350.61 212.97 349.62 213.91 348.2 215.39 C346.78 216.88 345.4 218.36 344.1 220.54 C342.79 222.73 341.46 225.93 340.38 228.51 C339.3 231.09 338.37 233.61 337.61 236.03 C336.86 238.44 336.35 240.64 335.86 243 C335.37 245.36 334.89 249 334.7 250.2 L334.7 254.2 L316.6 254.2Z" fill="#006bff" stroke="#000" stroke-width="0.45" stroke-opacity="0.85"/><path d="M316.6 173.68 L320.6 173.68 C322.89 174.72 329.72 178.11 334.36 179.93 C339 181.74 344 183.1 348.44 184.55 C352.87 186.01 356.93 187.22 360.95 188.63 C364.98 190.04 369.69 191.76 372.57 193 C375.45 194.25 376.91 195.24 378.23 196.11 C379.55 196.98 381.23 197.47 380.49 198.23 C379.74 199 376.39 199.77 373.77 200.72 C371.14 201.67 367.48 202.85 364.72 203.94 C361.97 205.04 359.56 206.07 357.24 207.28 C354.91 208.49 352.51 209.96 350.77 211.18 C349.03 212.41 348.12 213.21 346.8 214.66 C345.47 216.1 344.08 217.64 342.82 219.87 C341.56 222.09 340.28 225.32 339.22 227.99 C338.17 230.66 337.23 233.37 336.49 235.87 C335.74 238.38 335.22 240.61 334.74 243 C334.26 245.39 333.79 249 333.6 250.2 L333.6 254.2 L316.6 254.2Z" fill="#00d8ff" stroke="#000" stroke-width="0.45" stroke-opacity="0.85"/><path d="M316.6 176.17 L320.6 176.17 C322.73 177.05 329.14 179.87 333.4 181.42 C337.65 182.97 342.2 184.18 346.12 185.45 C350.04 186.73 353.5 187.8 356.91 189.07 C360.31 190.35 364.15 191.91 366.54 193.1 C368.92 194.28 370.15 195.32 371.22 196.2 C372.29 197.09 373.52 197.62 372.96 198.42 C372.4 199.22 369.88 200.07 367.87 201.01 C365.86 201.95 363.07 203.03 360.89 204.06 C358.71 205.09 356.75 206.07 354.8 207.2 C352.85 208.32 350.73 209.66 349.2 210.8 C347.66 211.94 346.83 212.6 345.58 214.01 C344.33 215.43 342.93 217.02 341.7 219.28 C340.48 221.53 339.25 224.79 338.22 227.54 C337.18 230.28 336.24 233.16 335.5 235.74 C334.76 238.32 334.24 240.59 333.76 243 C333.28 245.41 332.83 249 332.64 250.2 L332.64 254.2 L316.6 254.2Z" fill="#46ffb9" stroke="#000" stroke-width="0.45" stroke-opacity="0.85"/><path d="M316.6 178.09 L320.6 178.09 C322.61 178.84 328.7 181.23 332.66 182.57 C336.61 183.91 340.81 185 344.34 186.14 C347.87 187.28 350.88 188.24 353.81 189.41 C356.75 190.58 359.93 192.02 361.95 193.16 C363.97 194.31 365.03 195.38 365.92 196.27 C366.81 197.17 367.74 197.73 367.29 198.56 C366.84 199.39 364.87 200.31 363.25 201.24 C361.63 202.18 359.36 203.18 357.55 204.16 C355.74 205.13 354.05 206.07 352.38 207.11 C350.7 208.15 348.85 209.35 347.49 210.38 C346.13 211.41 345.38 211.92 344.2 213.29 C343.03 214.66 341.62 216.32 340.43 218.6 C339.24 220.89 338.07 224.18 337.06 227.02 C336.05 229.85 335.11 232.92 334.37 235.59 C333.63 238.25 333.11 240.56 332.64 243 C332.17 245.44 331.73 249 331.55 250.2 L331.55 254.2 L316.6 254.2Z" fill="#b3ff4c" stroke="#000" stroke-width="0.45" stroke-opacity="0.85"/><path d="M316.6 180.09 L320.6 180.09 C322.48 180.7 328.24 182.63 331.89 183.76 C335.55 184.89 339.38 185.85 342.53 186.84 C345.68 187.84 348.25 188.68 350.8 189.74 C353.35 190.81 356.03 192.13 357.84 193.23 C359.64 194.33 360.77 195.42 361.62 196.33 C362.46 197.24 363.24 197.82 362.89 198.67 C362.54 199.52 360.91 200.5 359.54 201.43 C358.17 202.36 356.23 203.31 354.66 204.24 C353.09 205.18 351.59 206.08 350.12 207.03 C348.64 207.99 347.04 209.05 345.82 209.98 C344.61 210.9 343.95 211.25 342.84 212.57 C341.73 213.9 340.31 215.61 339.16 217.93 C338 220.25 336.9 223.58 335.91 226.5 C334.93 229.41 333.98 232.69 333.24 235.44 C332.51 238.19 331.99 240.54 331.52 243 C331.05 245.46 330.63 249 330.45 250.2 L330.45 254.2 L316.6 254.2Z" fill="#ffde00" stroke="#000" stroke-width="0.45" stroke-opacity="0.85"/><path d="M316.6 181.55 L320.6 181.55 C322.39 182.06 327.9 183.67 331.33 184.64 C334.75 185.61 338.32 186.48 341.16 187.38 C343.99 188.27 346.2 189.03 348.34 190.01 C350.48 191 352.57 192.22 354.01 193.29 C355.45 194.35 356.34 195.47 356.97 196.39 C357.6 197.31 358.08 197.92 357.81 198.79 C357.53 199.67 356.39 200.72 355.34 201.64 C354.29 202.57 352.78 203.45 351.52 204.34 C350.26 205.22 349 206.08 347.77 206.95 C346.54 207.82 345.18 208.75 344.13 209.56 C343.08 210.38 342.51 210.57 341.46 211.85 C340.42 213.13 339 214.91 337.88 217.26 C336.77 219.61 335.72 222.97 334.76 225.97 C333.8 228.98 332.84 232.45 332.11 235.28 C331.39 238.12 330.86 240.51 330.4 243 C329.94 245.49 329.53 249 329.35 250.2 L329.35 254.2 L316.6 254.2Z" fill="#ff7100" stroke="#000" stroke-width="0.45" stroke-opacity="0.85"/><path d="M316.6 183.08 L320.6 183.08 C322.29 183.49 327.54 184.75 330.74 185.55 C333.93 186.36 337.22 187.13 339.76 187.92 C342.29 188.71 344.15 189.37 345.97 190.27 C347.8 191.18 349.47 192.31 350.7 193.34 C351.94 194.36 352.83 195.52 353.39 196.44 C353.96 197.36 354.3 197.99 354.09 198.88 C353.88 199.78 353.01 200.88 352.16 201.8 C351.3 202.72 350.02 203.57 348.95 204.41 C347.87 205.26 346.76 206.08 345.7 206.88 C344.64 207.67 343.5 208.47 342.58 209.19 C341.66 209.9 341.17 209.94 340.19 211.18 C339.2 212.42 337.78 214.25 336.69 216.63 C335.61 219.02 334.62 222.4 333.68 225.49 C332.74 228.57 331.78 232.22 331.06 235.14 C330.34 238.06 329.81 240.49 329.35 243 C328.89 245.51 328.5 249 328.33 250.2 L328.33 254.2 L316.6 254.2Z" fill="#ff0300" stroke="#000" stroke-width="0.45" stroke-opacity="0.85"/><path d="M316.6 185 L320.6 185 C322.17 185.28 327.1 186.1 330 186.7 C332.9 187.3 335.83 187.95 338 188.6 C340.17 189.25 341.58 189.8 343 190.6 C344.42 191.4 345.53 192.42 346.5 193.4 C347.47 194.38 348.33 195.57 348.8 196.5 C349.27 197.43 349.4 198.08 349.3 199 C349.2 199.92 348.75 201.08 348.2 202 C347.65 202.92 346.78 203.7 346 204.5 C345.22 205.3 344.33 206.08 343.5 206.8 C342.67 207.52 341.77 208.18 341 208.8 C340.23 209.42 339.82 209.3 338.9 210.5 C337.98 211.7 336.55 213.58 335.5 216 C334.45 218.42 333.52 221.83 332.6 225 C331.68 228.17 330.72 232 330 235 C329.28 238 328.75 240.47 328.3 243 C327.85 245.53 327.47 249 327.3 250.2 L327.3 254.2 L316.6 254.2Z" fill="#950000" stroke="#000" stroke-width="0.45" stroke-opacity="0.85"/><path d="M316.6 193.8 L320.6 193.8 C321 193.87 322.17 193.87 323 194.2 C323.83 194.53 324.8 195.03 325.6 195.8 C326.4 196.57 327.27 197.53 327.8 198.8 C328.33 200.07 328.77 201.87 328.8 203.4 C328.83 204.93 328.42 206.4 328 208 C327.58 209.6 326.83 211.17 326.3 213 C325.77 214.83 325.23 216.83 324.8 219 C324.37 221.17 324 223.33 323.7 226 C323.4 228.67 323.18 231.83 323 235 C322.82 238.17 322.68 242.47 322.6 245 C322.52 247.53 322.52 249.33 322.5 250.2 L322.5 254.2 L316.6 254.2Z" fill="#ff0300" stroke="#000" stroke-width="0.45" stroke-opacity="0.85"/><path d="M316.6 195.6 L320.6 195.6 C321.03 195.73 322.37 195.83 323.2 196.4 C324.03 196.97 325.07 197.83 325.6 199 C326.13 200.17 326.43 201.73 326.4 203.4 C326.37 205.07 325.8 206.9 325.4 209 C325 211.1 324.37 213.5 324 216 C323.63 218.5 323.43 220.83 323.2 224 C322.97 227.17 322.77 230.63 322.6 235 C322.43 239.37 322.27 247.67 322.2 250.2 L322.2 254.2 L316.6 254.2Z" fill="#ff7100" stroke="#000" stroke-width="0.45" stroke-opacity="0.85"/><path d="M316.6 197.4 L320.6 197.4 C320.93 197.53 321.97 197.6 322.6 198.2 C323.23 198.8 324.07 199.87 324.4 201 C324.73 202.13 324.75 203.17 324.6 205 C324.45 206.83 323.85 209.17 323.5 212 C323.15 214.83 322.75 218.17 322.5 222 C322.25 225.83 322.12 230.3 322 235 C321.88 239.7 321.83 247.67 321.8 250.2 L321.8 254.2 L316.6 254.2Z" fill="#ffde00" stroke="#000" stroke-width="0.45" stroke-opacity="0.85"/><path d="M316.6 199.6 L320.6 199.6 C320.87 199.83 321.8 200.1 322.2 201 C322.6 201.9 323 202.67 323 205 C323 207.33 322.43 210.83 322.2 215 C321.97 219.17 321.73 224.13 321.6 230 C321.47 235.87 321.43 246.83 321.4 250.2 L321.4 254.2 L316.6 254.2Z" fill="#b3ff4c" stroke="#000" stroke-width="0.45" stroke-opacity="0.85"/><path d="M316.6 203 L320.6 203 C320.75 203.42 321.38 202.67 321.5 205.5 C321.62 208.33 321.37 212.55 321.3 220 C321.23 227.45 321.13 245.17 321.1 250.2 L321.1 254.2 L316.6 254.2Z" fill="#46ffb9" stroke="#000" stroke-width="0.45" stroke-opacity="0.85"/></g><path d="M327.6 250.2 C328 247.5 328.57 239.53 330 234 C331.43 228.47 333.53 221.88 336.2 217 C338.87 212.12 342.72 207.37 346 204.7 C349.28 202.03 352.23 201.9 355.9 201 C359.57 200.1 363.98 199.7 368 199.3 C372.02 198.9 374.67 198.8 380 198.6 C385.33 198.4 392.35 198.22 400 198.1 C407.65 197.98 421.58 197.93 425.9 197.9" fill="none" stroke="#111" stroke-width="0.8" stroke-dasharray="1.4 0.9"/><line x1="320.6" y1="185.2" x2="425.9" y2="185.2" stroke="#d0d0f0" stroke-width="0.6"/><line x1="320.6" y1="191.8" x2="425.9" y2="191.8" stroke="#d0d0f0" stroke-width="0.6"/><g stroke="#e8e8ff" stroke-width="0.6" fill="none"><line x1="412.9" y1="185.9" x2="412.9" y2="191.1"/><polyline points="411.3,187.68 412.9,185.9 414.5,187.68"/><polyline points="411.3,189.32 412.9,191.1 414.5,189.32"/></g><text x="381" y="170.4" font-size="8.5" text-anchor="start" font-weight="bold" fill="#fff" stroke="#fff" stroke-width="0.28">D-SiNHs</text><rect x="320.6" y="155.2" width="105.3" height="95" fill="none" stroke="#999" stroke-width="0.5"/><path d="M320.6 250.2v-1.5 M320.6 155.2v1.5M355.7 250.2v-1.5 M355.7 155.2v1.5M390.8 250.2v-1.5 M390.8 155.2v1.5M425.9 250.2v-1.5 M425.9 155.2v1.5M320.6 250.2h1.5 M425.9 250.2h-1.5M320.6 238.32h1.5 M425.9 238.32h-1.5M320.6 226.45h1.5 M425.9 226.45h-1.5M320.6 214.57h1.5 M425.9 214.57h-1.5M320.6 202.7h1.5 M425.9 202.7h-1.5M320.6 190.82h1.5 M425.9 190.82h-1.5M320.6 178.95h1.5 M425.9 178.95h-1.5M320.6 167.07h1.5 M425.9 167.07h-1.5M320.6 155.2h1.5 M425.9 155.2h-1.5" stroke="#333" stroke-width="0.5" fill="none"/><text x="316.8" y="241.32" font-size="8.8" text-anchor="end" font-weight="bold" fill="#000" stroke="#000" stroke-width="0.28">0.5</text><text x="316.8" y="229.45" font-size="8.8" text-anchor="end" font-weight="bold" fill="#000" stroke="#000" stroke-width="0.28">1</text><text x="316.8" y="217.57" font-size="8.8" text-anchor="end" font-weight="bold" fill="#000" stroke="#000" stroke-width="0.28">1.5</text><text x="316.8" y="205.7" font-size="8.8" text-anchor="end" font-weight="bold" fill="#000" stroke="#000" stroke-width="0.28">2</text><text x="316.8" y="193.82" font-size="8.8" text-anchor="end" font-weight="bold" fill="#000" stroke="#000" stroke-width="0.28">2.5</text><text x="316.8" y="181.95" font-size="8.8" text-anchor="end" font-weight="bold" fill="#000" stroke="#000" stroke-width="0.28">3</text><text x="316.8" y="170.07" font-size="8.8" text-anchor="end" font-weight="bold" fill="#000" stroke="#000" stroke-width="0.28">3.5</text><text x="316.8" y="158.2" font-size="8.8" text-anchor="end" font-weight="bold" fill="#000" stroke="#000" stroke-width="0.28">4</text><text x="320.6" y="259.9" font-size="8.7" text-anchor="middle" font-weight="bold" fill="#000" stroke="#000" stroke-width="0.28">0</text><text x="355.7" y="259.9" font-size="8.7" text-anchor="middle" font-weight="bold" fill="#000" stroke="#000" stroke-width="0.28">100</text><text x="390.8" y="259.9" font-size="8.7" text-anchor="middle" font-weight="bold" fill="#000" stroke="#000" stroke-width="0.28">200</text><text x="425.9" y="259.9" font-size="8.7" text-anchor="middle" font-weight="bold" fill="#000" stroke="#000" stroke-width="0.28">300</text><text x="320.3" y="152.9" font-size="8.8" font-weight="bold" stroke="#000" stroke-width="0.28">×10<tspan font-size="5.6" dy="-2.7">14</tspan></text><text x="310.2" y="270.2" font-size="8.85" font-weight="bold" stroke="#000" stroke-width="0.28">Dimensionless wavevector β/k<tspan font-size="5.4" dy="1.8">s</tspan></text><text transform="translate(299.3 203.3) rotate(-90)" x="0" y="0" font-size="8.75" text-anchor="middle" font-weight="bold" fill="#000" stroke="#000" stroke-width="0.28">Angular frequency ω, rad/s</text><rect x="432" y="155.2" width="7.6" height="95" fill="url(#cbf)" stroke="#333" stroke-width="0.5"/><text x="441.2" y="241.06" font-size="8.9" text-anchor="start" font-weight="bold" fill="#000" stroke="#000" stroke-width="0.28">0.1</text><text x="441.2" y="230.79" font-size="8.9" text-anchor="start" font-weight="bold" fill="#000" stroke="#000" stroke-width="0.28">0.2</text><text x="441.2" y="220.52" font-size="8.9" text-anchor="start" font-weight="bold" fill="#000" stroke="#000" stroke-width="0.28">0.3</text><text x="441.2" y="210.25" font-size="8.9" text-anchor="start" font-weight="bold" fill="#000" stroke="#000" stroke-width="0.28">0.4</text><text x="441.2" y="199.98" font-size="8.9" text-anchor="start" font-weight="bold" fill="#000" stroke="#000" stroke-width="0.28">0.5</text><text x="441.2" y="189.71" font-size="8.9" text-anchor="start" font-weight="bold" fill="#000" stroke="#000" stroke-width="0.28">0.6</text><text x="441.2" y="179.44" font-size="8.9" text-anchor="start" font-weight="bold" fill="#000" stroke="#000" stroke-width="0.28">0.7</text><text x="441.2" y="169.17" font-size="8.9" text-anchor="start" font-weight="bold" fill="#000" stroke="#000" stroke-width="0.28">0.8</text><text x="441.2" y="158.9" font-size="8.9" text-anchor="start" font-weight="bold" fill="#000" stroke="#000" stroke-width="0.28">0.9</text><text x="417.4" y="150.4" font-size="9.1" font-weight="bold" stroke="#000" stroke-width="0.28">ξ<tspan font-size="5.4" dy="1.7">p</tspan><tspan dy="-1.7">(ω, β)</tspan></text>
<text x="458.4" y="9.1" font-size="11.2" text-anchor="start" font-weight="bold" fill="#000" stroke="#000" stroke-width="0.28">(g)</text><line x1="495" y1="100.4" x2="593.5" y2="100.4" stroke="#aaa" stroke-width="0.6" stroke-dasharray="2 1.5"/><path d="M495 51.6 C496.67 53.55 501.67 59.57 505 63.3 C508.33 67.03 511.33 70.45 515 74 C518.67 77.55 523.17 81.52 527 84.6 C530.83 87.68 535 90.1 538 92.5 C541 94.9 543.17 97.25 545 99 C546.83 100.75 547.67 101.5 549 103 C550.33 104.5 551.67 106.47 553 108 C554.33 109.53 555.67 111.35 557 112.2 C558.33 113.05 558 112.95 561 113.1 C564 113.25 569.58 113.1 575 113.1 C580.42 113.1 590.42 113.1 593.5 113.1" fill="none" stroke="#111" stroke-width="0.8" stroke-dasharray="0.9 0.8" stroke-linecap="butt"/><path d="M495 49 C496.67 51 501.67 57.08 505 61 C508.33 64.92 511.33 68.77 515 72.5 C518.67 76.23 523.17 80.4 527 83.4 C530.83 86.4 534.33 88.4 538 90.5 C541.67 92.6 545.67 94.12 549 96 C552.33 97.88 555.17 100.33 558 101.8 C560.83 103.27 562.33 104.2 566 104.8 C569.67 105.4 575.42 105.3 580 105.4 C584.58 105.5 591.25 105.4 593.5 105.4" fill="none" stroke="#3030ff" stroke-width="0.8" stroke-dasharray="2.2 1 0.7 1" stroke-linecap="butt"/><path d="M495 31.5 C496.67 33.7 501.67 40.3 505 44.7 C508.33 49.1 511.67 53.5 515 57.9 C518.33 62.3 522 67.2 525 71.1 C528 75 530.5 78.38 533 81.3 C535.5 84.22 537.67 86.48 540 88.6 C542.33 90.72 544.5 92.43 547 94 C549.5 95.57 552.33 96.98 555 98 C557.67 99.02 560.17 99.63 563 100.1 C565.83 100.57 566.92 100.68 572 100.8 C577.08 100.92 589.92 100.8 593.5 100.8" fill="none" stroke="#ff2a2a" stroke-width="1" stroke-linecap="butt"/><rect x="495" y="18.4" width="98.5" height="97.7" fill="none" stroke="#8a8a8a" stroke-width="0.8"/><path d="M495 116.1v-1.6M495 18.4v1.6M519.62 116.1v-1.6M519.62 18.4v1.6M544.25 116.1v-1.6M544.25 18.4v1.6M568.88 116.1v-1.6M568.88 18.4v1.6M593.5 116.1v-1.6M593.5 18.4v1.6M495 18.4h1.6M593.5 18.4h-1.6M495 34.68h1.6M593.5 34.68h-1.6M495 50.97h1.6M593.5 50.97h-1.6M495 67.25h1.6M593.5 67.25h-1.6M495 83.53h1.6M593.5 83.53h-1.6M495 99.82h1.6M593.5 99.82h-1.6M495 116.1h1.6M593.5 116.1h-1.6" stroke="#555" stroke-width="0.6" fill="none"/><path d="M502.41 116.1v-0.9M502.41 18.4v0.9M506.75 116.1v-0.9M506.75 18.4v0.9M509.83 116.1v-0.9M509.83 18.4v0.9M512.21 116.1v-0.9M512.21 18.4v0.9M514.16 116.1v-0.9M514.16 18.4v0.9M515.81 116.1v-0.9M515.81 18.4v0.9M517.24 116.1v-0.9M517.24 18.4v0.9M518.5 116.1v-0.9M518.5 18.4v0.9M527.04 116.1v-0.9M527.04 18.4v0.9M531.37 116.1v-0.9M531.37 18.4v0.9M534.45 116.1v-0.9M534.45 18.4v0.9M536.84 116.1v-0.9M536.84 18.4v0.9M538.79 116.1v-0.9M538.79 18.4v0.9M540.44 116.1v-0.9M540.44 18.4v0.9M541.86 116.1v-0.9M541.86 18.4v0.9M543.12 116.1v-0.9M543.12 18.4v0.9M551.66 116.1v-0.9M551.66 18.4v0.9M556 116.1v-0.9M556 18.4v0.9M559.08 116.1v-0.9M559.08 18.4v0.9M561.46 116.1v-0.9M561.46 18.4v0.9M563.41 116.1v-0.9M563.41 18.4v0.9M565.06 116.1v-0.9M565.06 18.4v0.9M566.49 116.1v-0.9M566.49 18.4v0.9M567.75 116.1v-0.9M567.75 18.4v0.9M576.29 116.1v-0.9M576.29 18.4v0.9M580.62 116.1v-0.9M580.62 18.4v0.9M583.7 116.1v-0.9M583.7 18.4v0.9M586.09 116.1v-0.9M586.09 18.4v0.9M588.04 116.1v-0.9M588.04 18.4v0.9M589.69 116.1v-0.9M589.69 18.4v0.9M591.11 116.1v-0.9M591.11 18.4v0.9M592.37 116.1v-0.9M592.37 18.4v0.9M495 23.3h0.9M593.5 23.3h-0.9M495 26.17h0.9M593.5 26.17h-0.9M495 28.2h0.9M593.5 28.2h-0.9M495 29.78h0.9M593.5 29.78h-0.9M495 31.07h0.9M593.5 31.07h-0.9M495 32.16h0.9M593.5 32.16h-0.9M495 33.11h0.9M593.5 33.11h-0.9M495 33.94h0.9M593.5 33.94h-0.9M495 39.59h0.9M593.5 39.59h-0.9M495 42.45h0.9M593.5 42.45h-0.9M495 44.49h0.9M593.5 44.49h-0.9M495 46.06h0.9M593.5 46.06h-0.9M495 47.35h0.9M593.5 47.35h-0.9M495 48.44h0.9M593.5 48.44h-0.9M495 49.39h0.9M593.5 49.39h-0.9M495 50.22h0.9M593.5 50.22h-0.9M495 55.87h0.9M593.5 55.87h-0.9M495 58.74h0.9M593.5 58.74h-0.9M495 60.77h0.9M593.5 60.77h-0.9M495 62.35h0.9M593.5 62.35h-0.9M495 63.64h0.9M593.5 63.64h-0.9M495 64.73h0.9M593.5 64.73h-0.9M495 65.67h0.9M593.5 65.67h-0.9M495 66.5h0.9M593.5 66.5h-0.9M495 72.15h0.9M593.5 72.15h-0.9M495 75.02h0.9M593.5 75.02h-0.9M495 77.05h0.9M593.5 77.05h-0.9M495 78.63h0.9M593.5 78.63h-0.9M495 79.92h0.9M593.5 79.92h-0.9M495 81.01h0.9M593.5 81.01h-0.9M495 81.96h0.9M593.5 81.96h-0.9M495 82.79h0.9M593.5 82.79h-0.9M495 88.44h0.9M593.5 88.44h-0.9M495 91.3h0.9M593.5 91.3h-0.9M495 93.34h0.9M593.5 93.34h-0.9M495 94.91h0.9M593.5 94.91h-0.9M495 96.2h0.9M593.5 96.2h-0.9M495 97.29h0.9M593.5 97.29h-0.9M495 98.24h0.9M593.5 98.24h-0.9M495 99.07h0.9M593.5 99.07h-0.9M495 104.72h0.9M593.5 104.72h-0.9M495 107.59h0.9M593.5 107.59h-0.9M495 109.62h0.9M593.5 109.62h-0.9M495 111.2h0.9M593.5 111.2h-0.9M495 112.49h0.9M593.5 112.49h-0.9M495 113.58h0.9M593.5 113.58h-0.9M495 114.52h0.9M593.5 114.52h-0.9M495 115.35h0.9M593.5 115.35h-0.9" stroke="#555" stroke-width="0.6" fill="none"/><text x="491.6" y="21.4" font-size="8.9" font-weight="bold" text-anchor="end" fill="#000" stroke="#000" stroke-width="0.28">10<tspan font-size="5" dy="-2.94">5</tspan></text><text x="491.6" y="37.68" font-size="8.9" font-weight="bold" text-anchor="end" fill="#000" stroke="#000" stroke-width="0.28">10<tspan font-size="5" dy="-2.94">4</tspan></text><text x="491.6" y="53.97" font-size="8.9" font-weight="bold" text-anchor="end" fill="#000" stroke="#000" stroke-width="0.28">10<tspan font-size="5" dy="-2.94">3</tspan></text><text x="491.6" y="70.25" font-size="8.9" font-weight="bold" text-anchor="end" fill="#000" stroke="#000" stroke-width="0.28">10<tspan font-size="5" dy="-2.94">2</tspan></text><text x="491.6" y="86.53" font-size="8.9" font-weight="bold" text-anchor="end" fill="#000" stroke="#000" stroke-width="0.28">10<tspan font-size="5" dy="-2.94">1</tspan></text><text x="491.6" y="102.82" font-size="8.9" font-weight="bold" text-anchor="end" fill="#000" stroke="#000" stroke-width="0.28">10<tspan font-size="5" dy="-2.94">0</tspan></text><text x="491.6" y="119.1" font-size="8.9" font-weight="bold" text-anchor="end" fill="#000" stroke="#000" stroke-width="0.28">10<tspan font-size="5" dy="-2.94">−1</tspan></text><text x="495" y="126.3" font-size="8.8" font-weight="bold" text-anchor="middle" fill="#000" stroke="#000" stroke-width="0.28">10<tspan font-size="4.93" dy="-2.9">−8</tspan></text><text x="519.62" y="126.3" font-size="8.8" font-weight="bold" text-anchor="middle" fill="#000" stroke="#000" stroke-width="0.28">10<tspan font-size="4.93" dy="-2.9">−7</tspan></text><text x="544.25" y="126.3" font-size="8.8" font-weight="bold" text-anchor="middle" fill="#000" stroke="#000" stroke-width="0.28">10<tspan font-size="4.93" dy="-2.9">−6</tspan></text><text x="568.88" y="126.3" font-size="8.8" font-weight="bold" text-anchor="middle" fill="#000" stroke="#000" stroke-width="0.28">10<tspan font-size="4.93" dy="-2.9">−5</tspan></text><text x="593.5" y="126.3" font-size="8.8" font-weight="bold" text-anchor="middle" fill="#000" stroke="#000" stroke-width="0.28">10<tspan font-size="4.93" dy="-2.9">−4</tspan></text><text x="506.5" y="137.9" font-size="8.85" text-anchor="start" font-weight="bold" fill="#000" stroke="#000" stroke-width="0.28">Gap distance, d (m)</text><text transform="translate(465.6 69) rotate(-90)" text-anchor="middle" font-size="8.4" font-weight="bold" stroke="#000" stroke-width="0.28">Heat flux ratio, Q/Q<tspan font-size="5.2" dy="1.8">bb</tspan></text><line x1="552.5" y1="32.9" x2="561.5" y2="32.9" stroke="#ff2a2a" stroke-width="1"/><text x="562.8" y="35.3" font-size="6.4" text-anchor="start" font-weight="bold" fill="#ff1010" stroke="#ff1010" stroke-width="0.28">CNTs</text><line x1="552.5" y1="41.5" x2="561.5" y2="41.5" stroke="#111" stroke-width="0.8" stroke-dasharray="0.9 0.8"/><text x="562.8" y="43.9" font-size="6.4" text-anchor="start" font-weight="bold" fill="#000" stroke="#000" stroke-width="0.28">Graphite</text><line x1="552.5" y1="50.1" x2="561.5" y2="50.1" stroke="#3030ff" stroke-width="0.8" stroke-dasharray="2.2 1 0.7 1"/><text x="562.8" y="52.5" font-size="6.4" text-anchor="start" font-weight="bold" fill="#2020ff" stroke="#2020ff" stroke-width="0.28">SiC</text>
<text x="459.7" y="138.3" font-size="11.2" text-anchor="start" font-weight="bold" fill="#000" stroke="#000" stroke-width="0.28">(h)</text><clipPath id="ch"><rect x="485.8" y="153.7" width="104" height="93.6"/></clipPath><g clip-path="url(#ch)"><rect x="485.8" y="153.7" width="104" height="93.6" fill="#00008f"/><path d="M486.05 150.7 486.1 153.7 487.3 159.27 488.97 164.95 491.2 169.95 501.54 179.95 509.13 184.95 517.59 189.95 521.52 192.45 521.67 192.7 522.5 194.95 522.52 201.95 517.96 203.45 517.67 203.7 525.05 205.93 537.05 206.35 559.05 207.9 580.8 209.8 592.8 211.2 592.8 215 570.05 216.4 545.05 218.29 525.05 221.52 519.3 221.95 517.41 223.2 515.81 224.95 511.89 231.95 511.05 235.29 508.8 246.65 508.31 250.2 502.43 250.2 502.8 246.48 505.34 231.95 509.28 224.45 510.25 223.2 513.05 221.15 517.05 220.54 525.05 219.82 544.8 216.82 564.51 214.95 568.64 214.2 569.4 213.95 570.02 213.45 569.42 212.7 567.65 211.95 564.55 211.2 559.84 210.45 537.05 208.07 525.05 207.46 517.05 205.24 509.97 202.7 509.71 202.45 510.67 201.95 510.67 195.2 509.65 192.45 501.05 185.05 495.84 179.95 491.55 173.84 489.05 169.95 487.8 165.77 487.05 161.66 485.98 154.2 485.93 150.7ZM483.05 221.4 484.56 221.45 485.16 247.95 485.16 250.2 484.95 250.2 484.23 223.7 484.05 222.81 482.8 222.8 482.8 221.4Z" fill="#0000fd" fill-rule="evenodd" stroke="#000" stroke-width="0.45" stroke-opacity="0.85"/><path d="M483.05 150.7 485.93 150.7 486.05 154.85 487.55 164.63 489.05 169.95 490.05 171.57 495.84 179.95 500.94 184.95 509.79 192.7 510.67 195.2 510.67 201.95 509.71 202.45 509.97 202.7 517.05 205.24 525.05 207.46 537.05 208.07 559.84 210.45 564.55 211.2 567.65 211.95 569.42 212.7 570.02 213.45 569.4 213.95 568.64 214.2 564.51 214.95 544.8 216.82 525.05 219.82 517.05 220.54 513.05 221.15 510.25 223.2 509.28 224.45 505.34 231.95 502.8 246.48 502.43 250.2 499.53 250.2 499.8 246.97 502.1 232.2 505.55 224.99 506.75 223.2 510.55 220.25 525.05 218.59 537.05 216.88 543.05 215.73 551.1 214.7 554.32 213.95 554.8 213.7 554.96 213.2 553.92 212.45 552.46 211.95 547.46 210.95 537.05 209.41 524.8 208.52 517.05 206.45 512.05 204.63 505.05 202.52 503.48 202.2 503.79 201.95 503.79 195.2 503.12 192.7 496.8 185.12 493.16 180.2 489.8 173.63 488.12 169.95 487.48 166.95 486.21 158.2 485.8 153.7 482.8 153.7 482.8 150.7ZM483.05 220.46 484.8 220.46 485.02 220.95 485.4 247.95 485.4 250.2 485.16 250.2 484.56 221.45 482.8 221.4 482.8 220.46Z" fill="#006bff" fill-rule="evenodd" stroke="#000" stroke-width="0.45" stroke-opacity="0.85"/><path d="M483.05 153.7 485.8 153.7 487.09 164.95 488.05 169.7 492.05 178.14 493.05 180.03 496.67 184.95 503.02 192.45 503.79 195.2 503.79 201.95 503.48 202.2 505.05 202.52 512.05 204.63 517.05 206.45 524.8 208.52 537.05 209.41 548.3 211.08 553.27 212.2 554.41 212.7 555 213.45 554.32 213.95 552.47 214.45 543.05 215.73 537.05 216.88 525.05 218.59 510.55 220.25 506.75 223.2 505.55 224.99 502.17 231.95 499.8 246.97 499.53 250.2 497.86 250.2 498.05 247.4 500.29 231.95 503.55 225.09 504.73 223.2 509.55 219.44 513.3 219.14 537.05 215.68 541.59 214.45 542.87 213.7 543 213.2 542.34 212.45 541.39 211.95 538.3 211.02 534.8 210.49 524.8 209.51 522.05 208.92 517.05 207.46 512.05 205.65 505.05 203.66 498.95 202.95 500.11 201.95 500.1 194.95 499.55 192.45 494.55 185.04 491.49 179.95 487.55 169.95 486.65 164.95 485.8 156.85 482.8 156.85 482.8 153.7ZM483.05 219.71 485.3 219.71 485.55 219.92 485.68 250.2 485.4 250.2 484.99 220.7 484.8 220.46 482.8 220.46 482.8 219.7Z" fill="#00d8ff" fill-rule="evenodd" stroke="#000" stroke-width="0.45" stroke-opacity="0.85"/><path d="M483.05 156.85 485.8 156.85 486.62 164.7 487.13 167.7 487.55 169.95 488.8 173.38 491.62 180.2 494.55 185.04 499.55 192.45 500.1 194.95 500.11 201.95 498.95 202.95 505.05 203.66 512.05 205.65 517.05 207.46 522.05 208.92 524.8 209.51 534.8 210.49 538.3 211.02 541.39 211.95 542.34 212.45 543 213.2 542.87 213.7 541.59 214.45 537.05 215.68 513.3 219.14 509.55 219.44 505.03 222.95 503.55 225.09 500.29 231.95 498.05 247.4 497.86 250.2 496.64 250.2 496.65 249.95 496.85 247.2 498.9 232.2 502.09 225.2 503.25 223.2 508.8 218.83 513.55 218.37 532.69 214.95 536.35 213.95 536.8 213.67 536.95 213.2 535.8 212.46 534 211.95 525.05 210.56 522.05 209.91 517.05 208.39 512.05 206.55 505.05 204.66 495.85 203.7 497.57 201.95 497.56 194.95 497.07 192.45 492.8 184.94 490.24 179.95 486.99 169.95 486.3 165.59 485.8 160.02 482.8 160.02 482.8 156.85ZM483.05 219.06 486.05 219.07 486.22 219.2 486.01 250.2 485.68 250.2 485.55 219.92 485.3 219.71 482.8 219.7 482.8 219.06Z" fill="#46ffb9" fill-rule="evenodd" stroke="#000" stroke-width="0.45" stroke-opacity="0.85"/><path d="M483.05 160.02 485.8 160.02 486.3 165.59 486.99 169.95 489.43 177.7 490.24 179.95 491.55 182.58 497.07 192.45 497.56 194.95 497.57 201.95 495.85 203.7 505.05 204.66 512.05 206.55 517.05 208.39 522.05 209.91 525.05 210.56 534 211.95 535.8 212.46 536.95 213.2 536.8 213.67 536.35 213.95 532.69 214.95 513.55 218.37 508.8 218.83 503.25 223.2 502.09 225.2 498.95 231.95 496.85 247.2 496.64 250.2 495.51 250.2 495.52 249.95 495.7 247.2 497.63 232.2 500.89 224.95 501.88 223.2 508.05 218.23 512.05 217.94 520.05 216.36 522.05 215.65 524.8 215.06 526.64 214.45 527.85 213.7 527.99 213.2 527.52 212.7 526.42 212.2 522.05 211.01 520.05 210.15 517.05 209.3 512.05 207.38 505.05 205.56 493.13 204.45 495.21 201.95 495.2 194.95 494.78 192.7 490.8 184.27 488.97 179.95 486.8 171.8 485.8 164.99 482.8 164.99 482.8 160.02ZM483.05 218.47 486.8 218.48 487.06 218.7 486.41 250.2 486.01 250.2 486.22 219.2 486.05 219.07 482.8 219.06 482.8 218.47Z" fill="#b3ff4c" fill-rule="evenodd" stroke="#000" stroke-width="0.45" stroke-opacity="0.85"/><path d="M483.05 164.99 485.8 164.99 486.8 171.8 488.97 179.95 490.88 184.45 494.72 192.45 495.2 194.95 495.21 201.95 493.13 204.45 505.05 205.56 512.05 207.38 517.05 209.3 520.05 210.15 522.05 211.01 526.42 212.2 527.52 212.7 527.99 213.2 527.85 213.7 526.64 214.45 524.8 215.06 522.05 215.65 520.05 216.36 512.05 217.94 508.05 218.23 501.88 223.2 500.89 224.95 497.68 231.95 495.7 247.2 495.51 250.2 494.29 250.2 494.3 249.95 494.49 246.95 496.27 232.2 499.3 225.31 500.41 223.2 504.17 219.95 506.85 217.95 507.55 217.65 512.57 217.2 519.8 215.33 521.35 214.45 521.94 213.7 522.02 213.2 521.39 212.2 520.05 211.29 517.05 210.28 511.8 208.12 505.05 206.42 490.65 205.2 492.76 201.95 492.75 194.95 492.32 192.7 489.8 186.14 487.72 179.95 486.97 176.45 485.8 169.17 482.8 169.17 482.8 164.99ZM483.05 217.91 488.16 217.95 487.43 231.95 486.93 250.2 486.41 250.2 487.06 218.7 486.8 218.48 482.8 218.47 482.8 217.91Z" fill="#ffde00" fill-rule="evenodd" stroke="#000" stroke-width="0.45" stroke-opacity="0.85"/><path d="M483.05 169.17 485.8 169.17 486.97 176.45 487.72 179.95 489.8 186.14 492.32 192.7 492.75 194.95 492.76 201.95 490.65 205.2 505.05 206.42 511.8 208.12 517.05 210.28 520.05 211.29 521.39 212.2 522.02 213.2 521.94 213.7 521.35 214.45 519.8 215.33 512.57 217.2 507.55 217.65 506.85 217.95 504.17 219.95 500.41 223.2 496.32 231.95 494.49 246.95 494.29 250.2 493.22 250.2 493.23 249.95 493.37 247.2 495.07 232.2 499.12 223.2 505.39 217.95 507.3 217.09 512.05 216.65 514.62 215.95 518.56 214.2 519.12 213.7 519.24 213.2 519.07 212.7 518.37 212.2 515.24 210.45 512.51 209.2 505.05 207.26 489.05 206.11 488.61 205.95 490.39 201.95 490.38 194.95 489.92 192.45 488.55 187.91 487.19 182.45 485.8 175.01 482.8 175.01 482.8 169.17ZM483.05 217.37 489.77 217.45 488.48 231.95 487.66 250.2 486.93 250.2 487.43 231.95 488.16 217.95 482.8 217.91 482.8 217.37Z" fill="#ff7100" fill-rule="evenodd" stroke="#000" stroke-width="0.45" stroke-opacity="0.85"/><path d="M483.05 175.01 485.8 175.01 487.19 182.45 488.55 187.91 489.92 192.45 490.38 194.95 490.39 201.95 488.61 205.95 489.05 206.11 505.05 207.26 512.51 209.2 515.24 210.45 518.37 212.2 519.07 212.7 519.24 213.2 519.12 213.7 518.56 214.2 514.62 215.95 512.05 216.65 507.3 217.09 505.39 217.95 499.12 223.2 495.12 231.95 493.37 247.2 493.22 250.2 491.71 250.2 493.17 232.2 497.41 223.2 503.55 218.02 506.8 216.54 512.05 215.95 514.05 215.24 515.8 214.12 516.15 213.45 516.17 212.7 514.48 211.2 512.05 209.9 505.05 208.11 487.3 206.91 487.13 206.7 488.3 201.95 488.29 194.95 487.89 192.45 485.8 183.33 482.8 183.33 482.8 175.01ZM483.05 216.83 491.55 216.8 492.53 216.95 490.29 231.95 488.91 247.95 488.91 250.2 487.66 250.2 488.48 231.95 489.77 217.45 482.8 217.37 482.8 216.83Z" fill="#ff0300" fill-rule="evenodd" stroke="#000" stroke-width="0.45" stroke-opacity="0.85"/><path d="M483.05 183.33 485.8 183.33 487.89 192.45 488.29 194.95 488.3 201.95 487.13 206.7 487.3 206.91 505.05 208.11 512.05 209.9 514.48 211.2 516.17 212.7 516.15 213.45 515.8 214.12 514.05 215.24 512.05 215.95 506.8 216.54 503.55 218.02 497.41 223.2 493.22 231.95 491.71 250.2 488.91 250.2 488.91 247.95 490.29 231.95 492.53 216.95 491.55 216.8 482.8 216.83 482.8 183.33Z" fill="#950000" fill-rule="evenodd" stroke="#000" stroke-width="0.45" stroke-opacity="0.85"/></g><path d="M489.9 247.3 C490.15 244.75 490.55 236.02 491.4 232 C492.25 227.98 493.53 225.52 495 223.2 C496.47 220.88 498.37 219.45 500.2 218.1 C502.03 216.75 504.17 215.83 506 215.1 C507.83 214.37 510.33 213.93 511.2 213.7" fill="none" stroke="#f4f4f4" stroke-width="0.9" stroke-dasharray="1.6 1"/><line x1="485.8" y1="173.5" x2="589.8" y2="173.5" stroke="#d0d0f0" stroke-width="0.6"/><line x1="485.8" y1="199.8" x2="589.8" y2="199.8" stroke="#d0d0f0" stroke-width="0.6"/><line x1="485.8" y1="205.5" x2="589.8" y2="205.5" stroke="#d0d0f0" stroke-width="0.6"/><line x1="485.8" y1="214.2" x2="589.8" y2="214.2" stroke="#d0d0f0" stroke-width="0.6"/><g stroke="#e8e8ff" stroke-width="0.6" fill="none"><line x1="583.7" y1="174.1" x2="583.7" y2="199.2"/><polyline points="582.1,175.88 583.7,174.1 585.3,175.88"/><polyline points="582.1,197.42 583.7,199.2 585.3,197.42"/></g><g stroke="#e8e8ff" stroke-width="0.6" fill="none"><line x1="583.7" y1="206.1" x2="583.7" y2="213.6"/><polyline points="582.1,207.88 583.7,206.1 585.3,207.88"/><polyline points="582.1,211.82 583.7,213.6 585.3,211.82"/></g><text x="531.6" y="164.4" font-size="8.6" text-anchor="start" font-weight="bold" fill="#fff" stroke="#fff" stroke-width="0.28">CNTs</text><rect x="485.8" y="153.7" width="104" height="93.6" fill="none" stroke="#999" stroke-width="0.5"/><path d="M485.8 247.3v-1.6 M485.8 153.7v1.6M520.47 247.3v-1.6 M520.47 153.7v1.6M555.13 247.3v-1.6 M555.13 153.7v1.6M589.8 247.3v-1.6 M589.8 153.7v1.6M485.8 177.6h1.6 M589.8 177.6h-1.6M485.8 218h1.6 M589.8 218h-1.6" stroke="#333" stroke-width="0.5" fill="none"/><path d="M485.8 246.24h0.9 M589.8 246.24h-0.9M485.8 239.12h0.9 M589.8 239.12h-0.9M485.8 234.08h0.9 M589.8 234.08h-0.9M485.8 230.16h0.9 M589.8 230.16h-0.9M485.8 226.96h0.9 M589.8 226.96h-0.9M485.8 224.26h0.9 M589.8 224.26h-0.9M485.8 221.92h0.9 M589.8 221.92h-0.9M485.8 219.85h0.9 M589.8 219.85h-0.9M485.8 218h0.9 M589.8 218h-0.9M485.8 205.84h0.9 M589.8 205.84h-0.9M485.8 198.72h0.9 M589.8 198.72h-0.9M485.8 193.68h0.9 M589.8 193.68h-0.9M485.8 189.76h0.9 M589.8 189.76h-0.9M485.8 186.56h0.9 M589.8 186.56h-0.9M485.8 183.86h0.9 M589.8 183.86h-0.9M485.8 181.52h0.9 M589.8 181.52h-0.9M485.8 179.45h0.9 M589.8 179.45h-0.9M485.8 177.6h0.9 M589.8 177.6h-0.9M485.8 165.44h0.9 M589.8 165.44h-0.9M485.8 158.32h0.9 M589.8 158.32h-0.9" stroke="#333" stroke-width="0.5" fill="none"/><text x="483.8" y="181.1" font-size="8.6" font-weight="bold" text-anchor="end" stroke="#000" stroke-width="0.28">10<tspan font-size="5.2" dy="-3.2">14</tspan></text><text x="483.8" y="220.6" font-size="8.6" font-weight="bold" text-anchor="end" stroke="#000" stroke-width="0.28">10<tspan font-size="5.2" dy="-3.2">13</tspan></text><text x="485.6" y="259.2" font-size="8.5" text-anchor="middle" font-weight="bold" fill="#000" stroke="#000" stroke-width="0.28">0</text><text x="520.27" y="259.2" font-size="8.5" text-anchor="middle" font-weight="bold" fill="#000" stroke="#000" stroke-width="0.28">500</text><text x="554.93" y="259.2" font-size="8.5" text-anchor="middle" font-weight="bold" fill="#000" stroke="#000" stroke-width="0.28">1000</text><text x="589.6" y="259.2" font-size="8.5" text-anchor="middle" font-weight="bold" fill="#000" stroke="#000" stroke-width="0.28">1500</text><text x="475.8" y="268.0" font-size="8.8" font-weight="bold" stroke="#000" stroke-width="0.28">Dimensionless wavevector, β/k<tspan font-size="5.4" dy="1.8">s</tspan></text><text transform="translate(465.4 209.3) rotate(-90)" x="0" y="0" font-size="8.5" text-anchor="middle" font-weight="bold" fill="#000" stroke="#000" stroke-width="0.28">Angular frequency, ω (rad/s)</text><rect x="595.2" y="153.7" width="7.7" height="93.6" fill="url(#cbh)" stroke="#333" stroke-width="0.5"/><text x="604.4" y="241.12" font-size="8.9" text-anchor="start" font-weight="bold" fill="#000" stroke="#000" stroke-width="0.28">0.1</text><text x="604.4" y="230.68" font-size="8.9" text-anchor="start" font-weight="bold" fill="#000" stroke="#000" stroke-width="0.28">0.2</text><text x="604.4" y="220.24" font-size="8.9" text-anchor="start" font-weight="bold" fill="#000" stroke="#000" stroke-width="0.28">0.3</text><text x="604.4" y="209.8" font-size="8.9" text-anchor="start" font-weight="bold" fill="#000" stroke="#000" stroke-width="0.28">0.4</text><text x="604.4" y="199.36" font-size="8.9" text-anchor="start" font-weight="bold" fill="#000" stroke="#000" stroke-width="0.28">0.5</text><text x="604.4" y="188.92" font-size="8.9" text-anchor="start" font-weight="bold" fill="#000" stroke="#000" stroke-width="0.28">0.6</text><text x="604.4" y="178.48" font-size="8.9" text-anchor="start" font-weight="bold" fill="#000" stroke="#000" stroke-width="0.28">0.7</text><text x="604.4" y="168.04" font-size="8.9" text-anchor="start" font-weight="bold" fill="#000" stroke="#000" stroke-width="0.28">0.8</text><text x="604.4" y="157.6" font-size="8.9" text-anchor="start" font-weight="bold" fill="#000" stroke="#000" stroke-width="0.28">0.9</text><text x="596" y="150.6" font-size="8.2" font-weight="bold" stroke="#000" stroke-width="0.28">ξ<tspan font-size="5" dy="1.6">p</tspan></text>
</svg>
</body></html>
